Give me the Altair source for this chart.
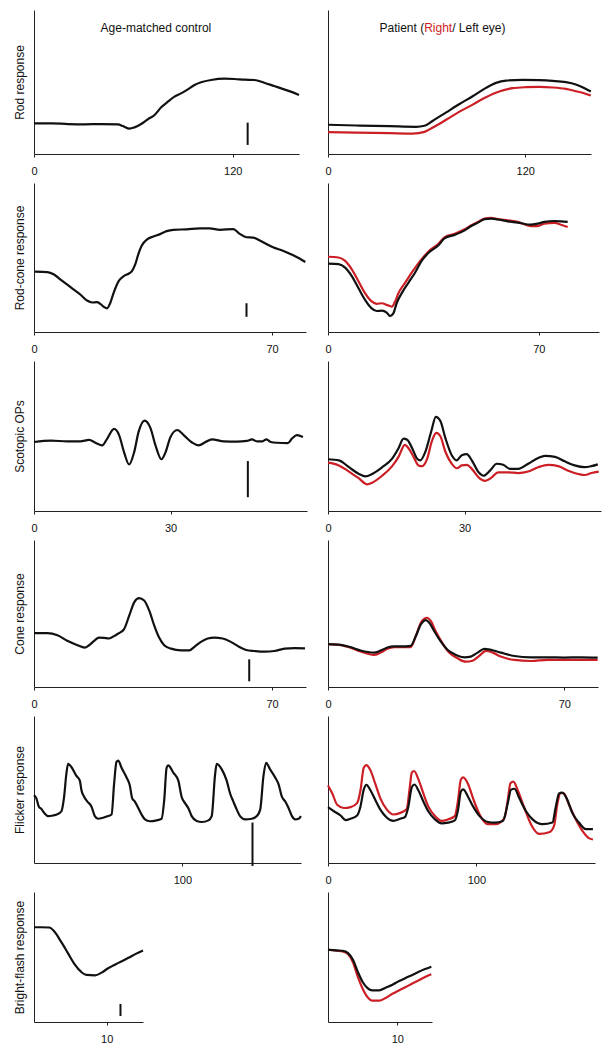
import altair as alt
import pandas as pd

FONT = "Liberation Sans"
BLACK = "#111111"
RED = "#cc1f25"

# ---------------- data (y in % of panel height, x in ms) ----------------
# Row 1: Rod response
R1L_x = [0, 10.5, 20.5, 30.6, 40.6, 50.7, 53.7, 57.7, 60.7, 64.7, 68.7, 72.8, 76.8, 80.8, 84.8, 88.8, 92.9, 96.9, 100.9, 106.9, 115, 121, 127, 133, 139, 145, 151, 155, 160]
R1L_y = [21.3, 21.3, 20.8, 20.6, 20.8, 20.6, 19.4, 17.6, 18.5, 20.8, 24.1, 27.1, 32.4, 36.3, 39.8, 42.1, 44.9, 47.9, 49.8, 51.4, 52.3, 52.1, 51.6, 51.4, 49.5, 47.2, 44.9, 43.3, 41.0]
R1R_bx = [0, 17.2, 37.4, 53.6, 58.7, 63.8, 71.9, 80, 88, 96.1, 102.2, 108.3, 118.4, 128.5, 136.6, 144.7, 150.8, 155.8, 159.9]
R1R_by = [20.3, 19.8, 19.3, 18.9, 19.6, 23.1, 28.9, 34.7, 40.1, 45.9, 49.4, 51.0, 51.5, 51.3, 50.8, 49.9, 48.3, 45.9, 43.4]
R1R_rx = [0, 17.2, 37.4, 51.6, 58.7, 63.8, 71.9, 80, 88, 96.1, 104.2, 112.3, 120.4, 128.5, 136.6, 144.7, 150.8, 155.8, 159.9]
R1R_ry = [15.2, 14.9, 14.5, 14.2, 15.4, 18.4, 23.8, 29.4, 34.3, 39.4, 43.4, 45.7, 46.4, 46.6, 46.2, 45.2, 43.6, 42.2, 40.6]

# Row 2: Rod-cone response
R2L_x = [0.3, 3.9, 5.9, 7.8, 9.8, 11.7, 13.7, 15.6, 17.1, 18.5, 19.5, 20.7, 21.5, 22.4, 23.4, 24.9, 26.4, 27.8, 28.8, 29.8, 30.7, 31.7, 33.2, 35.1, 37.1, 39.0, 41.0, 44.9, 48.8, 51.7, 54.7, 58.6, 60.5, 62.5, 64.4, 66.4, 68.3, 70.3, 73.2, 76.1, 78.1, 79.8]
R2L_y = [40.5, 40.2, 38.6, 35.2, 31.8, 28.4, 25.0, 21.1, 19.8, 20.0, 18.9, 16.6, 15.9, 19.3, 26.1, 34.1, 37.5, 39.1, 40.9, 45.5, 52.3, 58.0, 62.0, 64.1, 65.7, 67.7, 68.6, 68.9, 69.5, 69.5, 68.6, 69.1, 65.9, 63.6, 63.4, 61.4, 59.1, 56.8, 54.5, 51.6, 49.3, 47.0]
R2R_bx = [0, 3.5, 5.7, 7.9, 10.1, 12.3, 14.5, 16.2, 17.9, 19.5, 20.6, 21.7, 22.8, 24.5, 26.7, 28.9, 31.1, 33.3, 36.6, 38.8, 42.1, 45.4, 47.6, 49.8, 52.0, 54.2, 56.4, 59.7, 63.0, 67.4, 69.6, 71.9, 75.2, 77.4, 79.6]
R2R_by = [45.9, 45.5, 43.2, 37.5, 29.5, 21.6, 15.9, 14.1, 14.3, 13.0, 10.7, 12.5, 19.3, 26.1, 33.0, 39.8, 47.7, 53.0, 58.0, 63.0, 65.2, 68.2, 71.1, 73.4, 75.7, 76.1, 75.5, 74.3, 73.4, 72.0, 72.7, 73.9, 74.5, 74.3, 73.9]
R2R_rx = [0, 3.5, 5.7, 7.9, 10.1, 12.3, 14.5, 16.2, 17.9, 19.5, 21.2, 22.3, 23.4, 25.6, 27.8, 31.1, 33.3, 36.6, 38.8, 42.1, 45.4, 47.6, 49.8, 52.0, 54.2, 56.4, 59.7, 63.0, 67.4, 69.6, 71.9, 75.2, 77.4, 79.6]
R2R_ry = [50.5, 50.0, 47.7, 42.0, 34.1, 26.1, 20.5, 18.9, 19.3, 18.2, 17.0, 20.5, 26.1, 33.0, 39.8, 48.9, 53.9, 59.1, 63.6, 65.9, 68.9, 71.6, 73.9, 76.1, 76.6, 75.7, 75.0, 73.9, 71.1, 71.1, 72.7, 73.2, 72.0, 70.5]

# Row 3: Scotopic OPs
R3L_x = [0, 3.7, 7.3, 10.2, 12.1, 13.5, 15.0, 16.1, 17.6, 18.7, 19.8, 20.9, 22.0, 23.0, 24.3, 25.6, 26.7, 28.0, 28.9, 30.0, 31.5, 32.9, 34.8, 36.2, 37.7, 39.1, 41.7, 44.6, 46.8, 47.9, 49.0, 50.1, 51.1, 52.0, 53.4, 55.8, 56.7, 57.8, 59.1]
R3L_y = [46.0, 46.9, 46.4, 46.4, 47.4, 45.5, 43.7, 48.3, 54.7, 50.6, 39.1, 31.0, 39.1, 52.9, 60.2, 55.2, 43.7, 34.5, 39.1, 49.4, 54.0, 50.6, 45.5, 43.7, 46.0, 47.8, 46.4, 46.2, 46.7, 47.8, 46.4, 46.4, 47.8, 46.0, 45.5, 45.3, 48.3, 50.6, 49.4]
R3R_bx = [0, 2.4, 4.6, 6.8, 8.2, 9.7, 11.9, 14.1, 15.5, 16.6, 17.4, 18.5, 19.6, 20.3, 21.4, 22.7, 23.7, 24.7, 25.8, 27.2, 28.3, 29.4, 30.5, 31.6, 33.1, 34.2, 35.6, 37.1, 38.5, 40.0, 41.8, 44.0, 46.2, 47.7, 49.9, 52.0, 54.2, 56.4, 57.9, 59.3]
R3R_by = [34.5, 33.8, 29.2, 24.7, 23.1, 24.7, 29.2, 34.9, 41.8, 48.2, 47.5, 41.8, 34.9, 33.8, 39.5, 53.2, 62.8, 60.0, 48.6, 37.2, 33.8, 37.2, 37.9, 33.8, 25.8, 23.5, 26.9, 31.5, 30.8, 28.1, 28.1, 31.5, 35.4, 36.8, 36.1, 33.1, 30.4, 29.2, 29.9, 31.1]
R3R_rx = [0, 2.4, 4.6, 6.8, 8.6, 9.7, 11.9, 14.1, 15.5, 16.9, 17.7, 18.8, 19.9, 20.7, 21.8, 22.8, 23.8, 24.7, 25.8, 27.2, 28.3, 29.4, 30.5, 31.6, 33.1, 34.5, 36.0, 37.4, 39.6, 41.8, 44.0, 46.2, 48.4, 50.6, 52.8, 55.0, 56.4, 57.9, 59.5]
R3R_ry = [32.2, 30.4, 26.3, 21.7, 17.8, 18.9, 23.5, 29.9, 36.1, 44.1, 41.8, 36.1, 30.4, 29.9, 34.9, 46.3, 52.1, 49.8, 39.5, 31.5, 28.5, 30.4, 30.8, 28.1, 22.4, 20.1, 22.4, 25.8, 25.8, 25.3, 26.3, 29.2, 30.8, 29.9, 26.9, 24.7, 24.0, 25.3, 26.3]

# Row 4: Cone response
R4L_x = [0, 3.9, 6.9, 9.8, 12.8, 14.9, 16.2, 17.7, 19.1, 20.6, 22.1, 23.6, 25.0, 26.5, 28.0, 29.5, 30.9, 32.4, 33.9, 35.4, 36.8, 38.3, 40.3, 43.2, 45.7, 47.1, 49.1, 51.1, 53.0, 55.5, 57.9, 60.4, 62.4, 64.8, 67.8, 70.7, 73.7, 76.6, 79.7]
R4L_y = [36.6, 36.6, 35.2, 31.4, 28.4, 26.8, 28.4, 31.4, 33.6, 33.4, 33.0, 34.8, 36.6, 39.4, 48.5, 57.7, 60.4, 58.8, 51.9, 41.6, 33.6, 28.4, 26.1, 24.9, 24.9, 27.2, 30.7, 33.0, 33.6, 33.0, 30.7, 27.2, 25.2, 24.5, 24.0, 24.5, 26.1, 26.5, 26.3]
R4R_bx = [0, 3.8, 6.7, 9.7, 13.6, 15.6, 17.6, 19.6, 21.6, 24.5, 26.0, 27.5, 29.0, 30.0, 31.5, 33.4, 35.4, 37.9, 40.4, 42.3, 44.3, 46.3, 48.3, 51.2, 55.2, 60.1, 65.1, 70.0, 75.0, 79.9]
R4R_by = [29.2, 28.7, 27.1, 24.8, 23.4, 24.8, 26.9, 27.6, 27.6, 28.0, 34.5, 42.5, 45.5, 43.7, 37.9, 31.0, 25.3, 21.8, 20.2, 20.7, 23.4, 26.0, 25.3, 23.4, 21.1, 20.2, 20.2, 20.0, 20.2, 20.0]
R4R_rx = [0, 3.8, 6.7, 9.7, 13.6, 15.6, 17.6, 19.6, 21.6, 24.5, 26.0, 27.5, 29.3, 30.5, 31.9, 33.9, 35.9, 38.4, 40.8, 42.8, 44.8, 46.8, 48.8, 51.2, 55.2, 60.1, 65.1, 70.0, 75.0, 79.9]
R4R_ry = [29.2, 28.5, 26.7, 24.1, 21.8, 23.4, 26.0, 27.1, 27.1, 27.1, 34.5, 43.7, 47.1, 44.8, 37.9, 29.9, 23.4, 19.5, 17.2, 17.9, 21.1, 24.6, 23.4, 20.7, 18.4, 17.7, 18.4, 18.4, 18.4, 18.4]

# Row 5: Flicker response
R5L_x = [0, 1.6, 3.2, 5.0, 7.2, 9.5, 12.8, 16.2, 18.5, 20.3, 21.8, 23.0, 25.2, 28.6, 30.9, 32.0, 33.8, 36.0, 38.7, 41.0, 43.2, 46.6, 50.0, 52.3, 54.0, 55.6, 56.8, 59.0, 62.4, 64.6, 66.2, 68.0, 70.3, 72.5, 74.8, 78.1, 82.6, 86.0, 87.8, 89.4, 90.5, 93.9, 97.3, 99.5, 101.8, 104.0, 106.3, 109.7, 113.1, 117.6, 119.8, 122.1, 123.2, 126.6, 129.9, 132.2, 134.4, 136.7, 138.9, 142.3, 146.8, 150.2, 152.5, 154.7, 156.5, 159.2, 162.6, 164.8, 167.1, 169.4, 171.6, 173.9, 176.1, 178.4, 180.0]
R5L_y = [46.2, 44.0, 38.5, 36.7, 33.6, 31.9, 32.3, 33.4, 35.2, 45.1, 60.4, 67.5, 65.3, 59.3, 56.0, 49.5, 45.1, 41.8, 38.5, 31.9, 30.1, 30.8, 31.9, 33.0, 53.8, 68.8, 69.7, 64.8, 58.2, 52.7, 44.0, 41.8, 37.4, 33.0, 29.7, 28.4, 29.0, 30.1, 42.9, 64.8, 66.4, 61.5, 56.0, 45.1, 40.7, 37.4, 31.9, 28.6, 27.9, 29.0, 31.9, 60.4, 67.5, 63.7, 56.0, 47.3, 41.8, 36.3, 31.9, 29.7, 30.1, 31.9, 36.3, 59.3, 68.1, 63.7, 58.2, 53.8, 45.1, 41.8, 37.4, 31.9, 29.7, 30.1, 31.9]
R5R_bx = [0, 4.0, 8.5, 11.8, 15.2, 19.6, 21.9, 24.1, 25.9, 28.6, 31.9, 35.3, 39.7, 44.2, 48.7, 52.0, 54.2, 56.5, 58.3, 60.9, 64.3, 67.6, 72.1, 76.6, 81.0, 85.5, 87.7, 89.5, 91.1, 94.4, 97.8, 102.2, 107.8, 112.3, 117.9, 121.2, 123.4, 125.7, 129.0, 133.5, 137.9, 144.6, 151.3, 153.6, 155.8, 158.0, 161.4, 164.7, 169.2, 173.7, 178.6]
R5R_by = [38.0, 35.2, 32.3, 29.2, 30.1, 32.3, 38.5, 49.9, 53.2, 49.5, 42.9, 36.3, 30.8, 28.6, 30.1, 31.4, 38.5, 51.6, 53.4, 49.5, 41.8, 35.2, 29.7, 27.0, 27.5, 29.0, 36.3, 48.4, 50.1, 45.1, 38.5, 31.9, 27.9, 27.5, 28.6, 40.7, 49.9, 50.5, 44.0, 35.2, 29.7, 26.4, 27.5, 38.5, 47.3, 47.9, 42.9, 34.1, 27.5, 23.1, 23.1]
R5R_rx = [0, 2.9, 6.2, 10.7, 15.2, 19.6, 21.9, 24.1, 25.9, 28.6, 31.9, 35.3, 39.7, 44.2, 48.7, 53.1, 54.9, 56.5, 58.0, 60.9, 64.3, 67.6, 72.1, 76.6, 81.0, 85.5, 87.7, 89.5, 91.1, 94.4, 97.8, 102.2, 107.8, 113.4, 119.0, 121.2, 123.0, 125.0, 127.9, 132.4, 136.8, 142.4, 149.1, 152.4, 154.7, 156.9, 159.1, 162.5, 167.0, 171.4, 175.9, 178.6]
R5R_ry = [52.7, 47.3, 39.6, 37.4, 38.0, 40.7, 49.5, 64.8, 66.6, 63.1, 53.8, 44.0, 36.3, 33.0, 34.1, 36.7, 49.5, 61.5, 62.6, 57.1, 47.3, 38.5, 31.9, 28.6, 29.7, 31.9, 42.9, 56.5, 58.2, 53.8, 44.0, 33.0, 26.4, 26.4, 30.8, 42.9, 54.3, 55.4, 49.5, 37.4, 26.4, 19.8, 20.9, 25.3, 40.7, 47.7, 47.3, 39.6, 29.7, 22.0, 16.9, 16.0]

# Row 6: Bright-flash response
R6L_x = [0, 0.9, 2.1, 2.8, 3.7, 4.65, 5.6, 6.5, 7.2, 8.4, 9.3, 10.2, 11.2, 12.1, 13.0, 14.0, 15.0]
R6L_y = [72.9, 72.9, 72.7, 69.6, 62.0, 53.2, 44.3, 38.5, 36.2, 35.9, 38.0, 41.3, 44.3, 46.8, 49.4, 52.4, 55.0]
R6R_x = [0, 1.2, 2.1, 2.9, 3.6, 4.3, 5.0, 5.7, 6.4, 7.4, 8.3, 9.3, 10.2, 11.2, 12.1, 13.1, 14.0, 14.9]
R6R_by = [55.6, 55.1, 54.8, 53.0, 47.8, 38.6, 30.8, 26.1, 24.3, 24.3, 26.4, 28.7, 31.3, 33.9, 36.0, 38.6, 40.7, 42.6]
R6R_ry = [55.6, 54.8, 54.3, 52.2, 46.0, 34.7, 25.6, 19.1, 16.4, 16.4, 18.5, 21.7, 24.3, 26.9, 29.5, 32.1, 34.7, 36.8]

# scale bars of the control column: x, y-bottom, y-top
BAR_X = [129, 62.5, 47.0, 63.3, 147.3, 11.9]
BAR_Y0 = [6.3, 10.2, 9.2, 3.9, -2.0, 4.6]
BAR_Y1 = [21.8, 19.3, 33.3, 18.8, 27.5, 13.9]

Y_TITLES = ["Rod response", "Rod-cone response", "Scotopic OPs", "Cone response", "Flicker response", "Bright-flash response"]
X_DOM_L = [[0, 160], [0, 80], [0, 60], [0, 80], [0, 180], [0, 15]]
X_DOM_R = [[0, 160], [0, 90], [0, 60], [0, 80], [0, 180], [0, 15]]
TICKS_L = [[0, 120], [0, 70], [0, 30], [0, 70], [100], [10]]
TICKS_R = [[0, 120], [0, 70], [0, 30], [0, 70], [0, 100], [10]]

# column headings (data coordinates in the first row)
HEAD_L = {"t": [73.6], "v": [87.5], "s": ["Age-matched control"]}
HEAD_R_X = 58.5
HEAD_R_Y = 87.5

# ---------------- layout sizes ----------------
W_L = [265, 272, 273, 272, 267, 109]
W_R = [263, 271, 273, 270, 267, 104]
H = [144, 149, 150, 147, 147, 130]
COL_GAP = 21
ROW_GAP = 29


def make_panel(xdom, ticks, width, height, curves, ytitle=None, bar=None, extra=None):
    xs = alt.Scale(domain=xdom, nice=False, zero=False)
    ys = alt.Scale(domain=[0, 100], nice=False, zero=False)
    xaxis = alt.Axis(values=ticks, title=None, labelFlush=False, tickSize=3,
                     labelPadding=8, grid=False, format="d")
    if ytitle:
        yaxis = alt.Axis(title=ytitle, titlePadding=8, labels=False, ticks=False, grid=False)
    else:
        yaxis = alt.Axis(title=None, labels=False, ticks=False, grid=False)
    X = lambda: alt.X("t:Q", scale=xs, axis=xaxis)
    Y = lambda: alt.Y("v:Q", scale=ys, axis=yaxis)
    layers = []
    for t, v, color in curves:
        df = pd.DataFrame({"t": t, "v": v})
        layers.append(alt.Chart(df).mark_line(color=color, strokeWidth=2.2, interpolate="monotone",
                                              strokeJoin="round").encode(x=X(), y=Y()))
    if bar is not None:
        bdf = pd.DataFrame({"t": [bar[0]], "v": [bar[1]], "v2": [bar[2]]})
        layers.append(alt.Chart(bdf).mark_rule(color=BLACK, strokeWidth=2).encode(
            x=X(), y=Y(), y2="v2:Q"))
    if extra:
        for df, kw in extra:
            layers.append(alt.Chart(pd.DataFrame(df)).mark_text(font=FONT, fontSize=12, baseline="middle", **kw)
                          .encode(x=X(), y=Y(), text="s:N"))
    return alt.layer(*layers).properties(width=width, height=height)


left_curves = [
    [(R1L_x, R1L_y, BLACK)],
    [(R2L_x, R2L_y, BLACK)],
    [(R3L_x, R3L_y, BLACK)],
    [(R4L_x, R4L_y, BLACK)],
    [(R5L_x, R5L_y, BLACK)],
    [(R6L_x, R6L_y, BLACK)],
]
right_curves = [
    [(R1R_rx, R1R_ry, RED), (R1R_bx, R1R_by, BLACK)],
    [(R2R_rx, R2R_ry, RED), (R2R_bx, R2R_by, BLACK)],
    [(R3R_rx, R3R_ry, RED), (R3R_bx, R3R_by, BLACK)],
    [(R4R_rx, R4R_ry, RED), (R4R_bx, R4R_by, BLACK)],
    [(R5R_rx, R5R_ry, RED), (R5R_bx, R5R_by, BLACK)],
    [(R6R_x, R6R_ry, RED), (R6R_x, R6R_by, BLACK)],
]

panels = []
for i in range(6):
    extra_l = None
    extra_r = None
    if i == 0:
        extra_l = [(HEAD_L, dict(align="center", color=BLACK))]
        extra_r = [
            ({"t": [HEAD_R_X], "v": [HEAD_R_Y], "s": ["Patient ("]}, dict(align="right", color=BLACK)),
            ({"t": [HEAD_R_X], "v": [HEAD_R_Y], "s": ["Right"]}, dict(align="left", color=RED)),
            ({"t": [HEAD_R_X], "v": [HEAD_R_Y], "s": ["/ Left eye)"]}, dict(align="left", color=BLACK, dx=28)),
        ]
    panels.append(make_panel(X_DOM_L[i], TICKS_L[i], W_L[i], H[i], left_curves[i], ytitle=Y_TITLES[i],
                             bar=(BAR_X[i], BAR_Y0[i], BAR_Y1[i]), extra=extra_l))
    panels.append(make_panel(X_DOM_R[i], TICKS_R[i], W_R[i], H[i], right_curves[i], extra=extra_r))

grid = alt.concat(*panels, columns=2, spacing={"row": ROW_GAP, "column": COL_GAP},
                  bounds="flush", align="each")

chart = grid.properties(
    padding={"left": 5, "top": 2, "right": 5, "bottom": 5}
).configure_axis(
    domainColor="#222222", domainWidth=1, tickColor="#222222", tickWidth=1,
    labelFont=FONT, labelFontSize=11, labelColor="#111111",
    titleFont=FONT, titleFontSize=12, titleFontWeight="normal", titleColor="#111111",
).configure_view(stroke=None)

chart.save("out.html", embed_options={"renderer": "svg", "actions": False})
